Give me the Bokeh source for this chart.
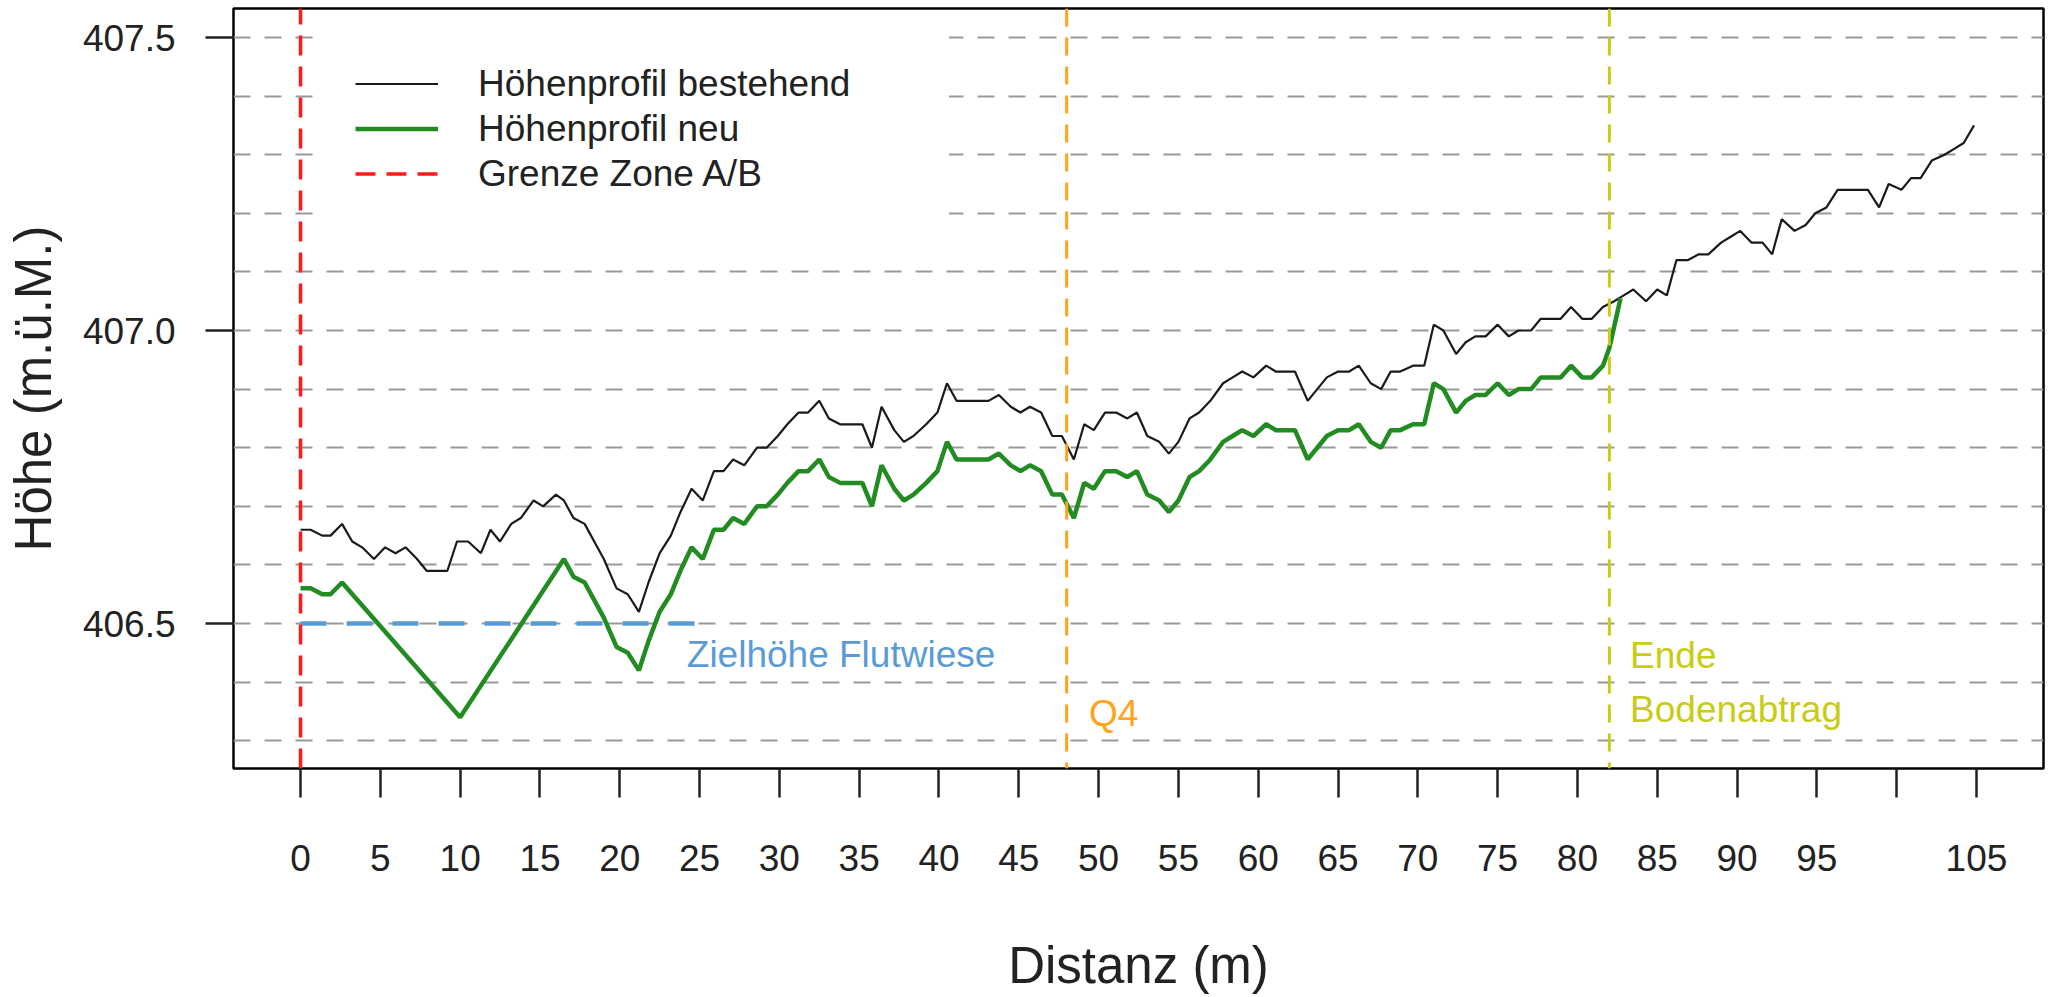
from bokeh.plotting import figure
from bokeh.models import Range1d, FixedTicker, Span, Legend, LegendItem, ColumnDataSource
from bokeh.core.properties import value
from bokeh.embed import file_html
from bokeh.resources import INLINE

# ---------------- data ----------------
# existing terrain profile (Höhenprofil bestehend)
dist_alt = [
    0, 0.63, 1.36, 1.88, 2.6, 3.24, 3.86, 4.6, 5.3, 5.95,
    6.58, 7.3, 7.9, 9.2, 9.8, 10.5, 11.3, 11.9, 12.5, 13.2,
    13.8, 14.6, 15.2, 16.0, 16.5, 17.1, 17.8, 18.4, 19.0, 19.8,
    20.5, 21.2, 21.8, 22.5, 23.2, 23.8, 24.5, 25.2, 25.9, 26.5,
    27.1, 27.8, 28.6, 29.2, 29.9, 30.5, 31.2, 31.8, 32.5, 33.1,
    33.8, 35.2, 35.8, 36.4, 37.2, 37.8, 38.4, 39.2, 39.9, 40.5,
    41.1, 43.1, 43.75, 44.5, 45.1, 45.7, 46.4, 47.1, 47.7, 48.45,
    49.1, 49.7, 50.4, 51.1, 51.8, 52.4, 53.05, 53.8, 54.4, 55.0,
    55.7, 56.3, 57.0, 57.8, 58.4, 59.0, 59.7, 60.5, 61.1, 62.3,
    63.1, 63.7, 64.3, 65.0, 65.7, 66.3, 67.05, 67.7, 68.3, 68.9,
    69.7, 70.4, 71.0, 71.6, 72.4, 73.0, 73.6, 74.25, 75.0, 75.7,
    76.3, 77.1, 77.7, 78.95, 79.6, 80.3, 80.9, 81.6, 82.3, 82.9,
    83.5, 84.3, 85.0, 85.6, 86.2, 86.9, 87.6, 88.2, 89.0, 89.6,
    90.2, 90.9, 91.6, 92.2, 92.8, 93.6, 94.3, 94.9, 95.6, 96.3,
    98.2, 98.9, 99.5, 100.3, 100.9, 101.5, 102.2, 103.0, 103.6, 104.2,
    104.85,
]
hoehe_alt = [
    406.66, 406.66, 406.65, 406.65, 406.67, 406.64, 406.63, 406.61, 406.63, 406.62,
    406.63, 406.61, 406.59, 406.59, 406.64, 406.64, 406.62, 406.66, 406.64, 406.67,
    406.68, 406.71, 406.70, 406.72, 406.71, 406.68, 406.67, 406.64, 406.61, 406.56,
    406.55, 406.52, 406.57, 406.62, 406.65, 406.69, 406.73, 406.71, 406.76, 406.76,
    406.78, 406.77, 406.80, 406.80, 406.82, 406.84, 406.86, 406.86, 406.88, 406.85,
    406.84, 406.84, 406.80, 406.87, 406.83, 406.81, 406.82, 406.84, 406.86, 406.91,
    406.88, 406.88, 406.89, 406.87, 406.86, 406.87, 406.86, 406.82, 406.82, 406.78,
    406.84, 406.83, 406.86, 406.86, 406.85, 406.86, 406.82, 406.81, 406.79, 406.81,
    406.85, 406.86, 406.88, 406.91, 406.92, 406.93, 406.92, 406.94, 406.93, 406.93,
    406.88, 406.90, 406.92, 406.93, 406.93, 406.94, 406.91, 406.90, 406.93, 406.93,
    406.94, 406.94, 407.01, 407.00, 406.96, 406.98, 406.99, 406.99, 407.01, 406.99,
    407.00, 407.00, 407.02, 407.02, 407.04, 407.02, 407.02, 407.04, 407.05, 407.06,
    407.07, 407.05, 407.07, 407.06, 407.12, 407.12, 407.13, 407.13, 407.15, 407.16,
    407.17, 407.15, 407.15, 407.13, 407.19, 407.17, 407.18, 407.20, 407.21, 407.24,
    407.24, 407.21, 407.25, 407.24, 407.26, 407.26, 407.29, 407.30, 407.31, 407.32,
    407.35,
]

# new terrain profile (Höhenprofil neu)
dist_neu = [
    0, 0.63, 1.36, 1.88, 2.6, 10.0, 16.5, 17.1, 17.8, 18.4,
    19.0, 19.8, 20.5, 21.2, 21.8, 22.5, 23.2, 23.8, 24.5, 25.2,
    25.9, 26.5, 27.1, 27.8, 28.6, 29.2, 29.9, 30.5, 31.2, 31.8,
    32.5, 33.1, 33.8, 35.2, 35.8, 36.4, 37.2, 37.8, 38.4, 39.2,
    39.9, 40.5, 41.1, 43.1, 43.75, 44.5, 45.1, 45.7, 46.4, 47.1,
    47.7, 48.45, 49.1, 49.7, 50.4, 51.1, 51.8, 52.4, 53.05, 53.8,
    54.4, 55.0, 55.7, 56.3, 57.0, 57.8, 58.4, 59.0, 59.7, 60.5,
    61.1, 62.3, 63.1, 63.7, 64.3, 65.0, 65.7, 66.3, 67.05, 67.7,
    68.3, 68.9, 69.7, 70.4, 71.0, 71.6, 72.4, 73.0, 73.6, 74.25,
    75.0, 75.7, 76.3, 77.1, 77.7, 78.95, 79.6, 80.3, 80.9, 81.6,
    82.0, 82.7,
]
hoehe_neu = [
    406.56, 406.56, 406.55, 406.55, 406.57, 406.34, 406.61, 406.58, 406.57, 406.54,
    406.51, 406.46, 406.45, 406.42, 406.47, 406.52, 406.55, 406.59, 406.63, 406.61,
    406.66, 406.66, 406.68, 406.67, 406.70, 406.70, 406.72, 406.74, 406.76, 406.76,
    406.78, 406.75, 406.74, 406.74, 406.70, 406.77, 406.73, 406.71, 406.72, 406.74,
    406.76, 406.81, 406.78, 406.78, 406.79, 406.77, 406.76, 406.77, 406.76, 406.72,
    406.72, 406.68, 406.74, 406.73, 406.76, 406.76, 406.75, 406.76, 406.72, 406.71,
    406.69, 406.71, 406.75, 406.76, 406.78, 406.81, 406.82, 406.83, 406.82, 406.84,
    406.83, 406.83, 406.78, 406.80, 406.82, 406.83, 406.83, 406.84, 406.81, 406.80,
    406.83, 406.83, 406.84, 406.84, 406.91, 406.90, 406.86, 406.88, 406.89, 406.89,
    406.91, 406.89, 406.90, 406.90, 406.92, 406.92, 406.94, 406.92, 406.92, 406.94,
    406.97, 407.055,
]

# reference lines / markers
zielhoehe = 406.5            # target height of the flood meadow
ziel_von_bis = [0, 25]       # extent of the target-height line
grenze_zone = 0              # boundary zone A/B
q4 = 48                      # Q4
ende_abtrag = 82             # end of soil removal

x_ticks = [0, 5, 10, 15, 20, 25, 30, 35, 40, 45, 50, 55, 60, 65, 70, 75, 80, 85, 90, 95, 100, 105]
x_tick_labels = ["0", "5", "10", "15", "20", "25", "30", "35", "40", "45", "50", "55",
                 "60", "65", "70", "75", "80", "85", "90", "95", "", "105"]
y_ticks = [406.5, 407.0, 407.5]
y_tick_labels = ["406.5", "407.0", "407.5"]
grid_levels = [406.3, 406.4, 406.5, 406.6, 406.7, 406.8, 406.9, 407.0,
               407.1, 407.2, 407.3, 407.4, 407.5]

x_lim = (-4.2, 109.2)
y_lim = (406.2526, 407.5495)

# annotation texts
notiz_text = ["Zielhöhe Flutwiese", "Q4", "Ende", "Bodenabtrag"]
notiz_x = [24.2, 49.4, 83.3, 83.3]
notiz_y = [406.447, 406.347, 406.446, 406.353]

# ---------------- styling ----------------
FONT = "Liberation Sans"
INK = "#222222"
C_BLUE = "#5B9BD5"
C_GREEN = "#228B22"
C_RED = "#FF1A1A"
C_ORANGE = "#FFA31A"
C_YELLOW = "#C8CC14"

p = figure(width=2048, height=997, output_backend="svg", toolbar_location=None,
           x_range=Range1d(*x_lim), y_range=Range1d(*y_lim),
           min_border_left=233, min_border_right=5, min_border_top=8, min_border_bottom=229,
           background_fill_color="white", border_fill_color="white")

p.outline_line_color = "black"
p.outline_line_width = 2.5
p.outline_line_alpha = 1.0

# grid
p.xgrid.visible = False
p.ygrid.ticker = FixedTicker(ticks=grid_levels)
p.ygrid.grid_line_color = "#999999"
p.ygrid.grid_line_width = 2.2
p.ygrid.grid_line_dash = "17 14"

# axes
xa = p.xaxis[0]
ya = p.yaxis[0]
xa.ticker = FixedTicker(ticks=x_ticks)
xa.major_label_overrides = dict(zip(x_ticks, x_tick_labels))
ya.ticker = FixedTicker(ticks=y_ticks)
ya.major_label_overrides = dict(zip(y_ticks, y_tick_labels))
for ax in (xa, ya):
    ax.axis_line_color = None
    ax.major_tick_line_color = INK
    ax.major_tick_line_width = 2.5
    ax.major_tick_in = 0
    ax.minor_tick_line_color = None
    ax.major_label_text_font = FONT
    ax.major_label_text_font_size = "37px"
    ax.major_label_text_color = INK
    ax.axis_label_text_font = FONT
    ax.axis_label_text_font_size = "51px"
    ax.axis_label_text_font_style = "normal"
    ax.axis_label_text_color = INK
xa.axis_label = "Distanz (m)"
ya.axis_label = "Höhe (m.ü.M.)"
xa.major_tick_out = 29
xa.major_label_standoff = 47
xa.axis_label_standoff = 63
ya.major_tick_out = 28
ya.major_label_standoff = 30
ya.axis_label_standoff = 18

# glyphs
p.line(ziel_von_bis, [zielhoehe, zielhoehe], line_color=C_BLUE, line_width=4.5,
       line_dash="26 20")
r_alt = p.line(dist_alt, hoehe_alt, line_color="#1a1a1a", line_width=2.2)
r_neu = p.line(dist_neu, hoehe_neu, line_color=C_GREEN, line_width=4.5)
r_grenze = p.line([grenze_zone, grenze_zone], list(y_lim), line_color=C_RED,
                  line_width=3.5, line_dash="20 11")

p.add_layout(Span(location=q4, dimension="height", line_color=C_ORANGE,
                  line_width=3, line_dash="18 11"))
p.add_layout(Span(location=ende_abtrag, dimension="height", line_color=C_YELLOW,
                  line_width=3, line_dash="18 11"))

src = ColumnDataSource(dict(x=notiz_x, y=notiz_y, t=notiz_text,
                            c=[C_BLUE, C_ORANGE, C_YELLOW, C_YELLOW]))
p.text(x="x", y="y", text="t", text_color="c", source=src,
       text_font=value(FONT), text_font_size="37px",
       text_align="left", text_baseline="alphabetic")

legend = Legend(items=[
    LegendItem(label="Höhenprofil bestehend", renderers=[r_alt]),
    LegendItem(label="Höhenprofil neu", renderers=[r_neu]),
    LegendItem(label="Grenze Zone A/B", renderers=[r_grenze]),
], location=(82, 532), glyph_width=83, glyph_height=45, label_height=45,
   label_width=431, label_standoff=40, padding=40, spacing=0, margin=0,
   border_line_color="white", border_line_alpha=0.0,
   background_fill_color="white", background_fill_alpha=1.0,
   label_text_font=FONT, label_text_font_size="37px", label_text_color=INK)
p.add_layout(legend)

open("out.html", "w").write(file_html(p, INLINE))
